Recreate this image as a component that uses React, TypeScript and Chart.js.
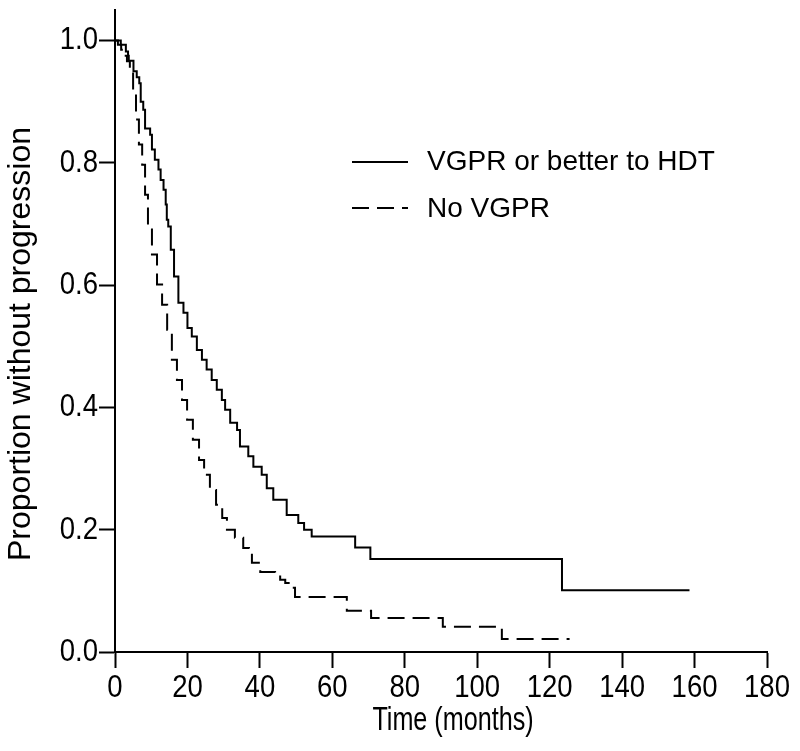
import React, { useEffect, useRef } from "react";
import { Chart, registerables } from "chart.js";

Chart.register(...registerables);

const xTicks = [0, 20, 40, 60, 80, 100, 120, 140, 160, 180];
const yTicks = [0, 0.2, 0.4, 0.6, 0.8, 1.0];

const vgprLabel = "VGPR or better to HDT";
const vgprTimes = [0, 1.6, 3.0, 3.6, 3.8, 5.1, 6.0, 6.7, 7.1, 7.8, 8.3, 9.7, 10.2, 11.0, 12.0, 12.6, 13.4, 14.0, 14.3, 14.7, 15.4, 16.3, 17.5, 18.9, 20.0, 21.2, 22.6, 24.0, 25.3, 26.7, 28.1, 29.5, 30.4, 31.8, 33.7, 34.5, 36.8, 38.2, 40.5, 41.9, 43.7, 47.4, 50.6, 52.2, 54.3, 66.3, 70.5, 123.4, 158.6];
const vgprValues = [1.0, 0.993, 0.982, 0.975, 0.967, 0.95, 0.94, 0.93, 0.9, 0.887, 0.856, 0.846, 0.822, 0.805, 0.789, 0.772, 0.756, 0.732, 0.707, 0.696, 0.658, 0.614, 0.571, 0.555, 0.53, 0.516, 0.494, 0.478, 0.462, 0.445, 0.429, 0.412, 0.396, 0.375, 0.363, 0.336, 0.32, 0.303, 0.29, 0.268, 0.249, 0.224, 0.211, 0.2, 0.189, 0.171, 0.152, 0.101, 0.101];

const noLabel = "No VGPR";
const noTimes = [0, 0.8, 1.7, 2.5, 3.3, 4.1, 5.0, 5.8, 6.6, 7.5, 8.3, 9.1, 10.2, 11.6, 13.0, 14.4, 15.7, 17.1, 18.5, 19.9, 21.5, 23.2, 24.6, 26.2, 27.9, 29.6, 30.9, 33.1, 35.4, 37.0, 37.8, 40.1, 44.2, 45.6, 47.0, 48.9, 49.7, 64.0, 70.7, 90.5, 106.8, 125.5];
const noValues = [1.0, 0.993, 0.985, 0.975, 0.966, 0.949, 0.912, 0.871, 0.83, 0.797, 0.748, 0.699, 0.65, 0.601, 0.568, 0.527, 0.478, 0.445, 0.412, 0.38, 0.347, 0.314, 0.29, 0.265, 0.241, 0.219, 0.2, 0.187, 0.17, 0.164, 0.146, 0.131, 0.126, 0.118, 0.113, 0.105, 0.09, 0.0676, 0.0556, 0.0415, 0.0213, 0.0213];

const xTitle = "Time (months)";
const yTitle = "Proportion without progression";

const DASH = [17, 8];
const REG = "'Liberation Sans', Arial, sans-serif";

function condensedText(ctx: any, text: string, x: number, y: number, size: number, sx: number, align: string) {
  ctx.save();
  ctx.font = `${size}px ${REG}`;
  ctx.textAlign = align;
  ctx.textBaseline = "middle";
  ctx.translate(x, y);
  ctx.scale(sx, 1);
  ctx.fillText(text, 0, 0);
  ctx.restore();
}

const overlayPlugin = {
  id: "overlay",
  afterDraw(chart: any) {
    const ctx = chart.ctx;
    const xs = chart.scales.x;
    const ys = chart.scales.y;
    ctx.save();
    ctx.fillStyle = "#000";
    // tick labels
    xTicks.forEach((v) => condensedText(ctx, String(v), xs.getPixelForValue(v), 688, 32, 0.86, "center"));
    yTicks.forEach((v) => condensedText(ctx, v.toFixed(1), 98, ys.getPixelForValue(v), 32, 0.86, "right"));
    // x title (condensed look)
    condensedText(ctx, xTitle, 453, 721, 34, 0.74, "center");
    // y title
    ctx.save();
    ctx.font = `32px ${REG}`;
    ctx.textAlign = "center";
    ctx.textBaseline = "middle";
    ctx.translate(21, 344);
    ctx.rotate(-Math.PI / 2);
    ctx.fillText(yTitle, 0, 0);
    ctx.restore();
    // legend
    ctx.strokeStyle = "#000";
    ctx.lineWidth = 2;
    ctx.setLineDash([]);
    ctx.beginPath();
    ctx.moveTo(352, 162);
    ctx.lineTo(408, 162);
    ctx.stroke();
    ctx.setLineDash(DASH);
    ctx.beginPath();
    ctx.moveTo(352, 208);
    ctx.lineTo(408, 208);
    ctx.stroke();
    ctx.setLineDash([]);
    ctx.font = `28px ${REG}`;
    ctx.textAlign = "left";
    ctx.textBaseline = "middle";
    ctx.fillText(vgprLabel, 427, 162);
    ctx.fillText(noLabel, 427, 209);
    ctx.restore();
  },
};

export default function App() {
  const ref = useRef<HTMLCanvasElement>(null);
  useEffect(() => {
    const canvas = ref.current!;
    const chart = new Chart(canvas, {
      type: "line",
      data: {
        datasets: [
          {
            label: vgprLabel,
            data: vgprTimes.map((t, i) => ({ x: t, y: vgprValues[i] })),
            borderColor: "#000",
            borderWidth: 2,
            pointRadius: 0,
            stepped: "before",
            fill: false,
          },
          {
            label: noLabel,
            data: noTimes.map((t, i) => ({ x: t, y: noValues[i] })),
            borderColor: "#000",
            borderWidth: 2,
            borderDash: DASH,
            pointRadius: 0,
            stepped: "before",
            fill: false,
          },
        ],
      },
      options: {
        animation: false,
        responsive: false,
        layout: { padding: { top: 10, right: 33, left: 0, bottom: 0 } },
        plugins: { legend: { display: false }, tooltip: { enabled: false } },
        scales: {
          x: {
            type: "linear",
            min: 0,
            max: 180,
            afterBuildTicks: (s: any) => {
              s.ticks = xTicks.map((v) => ({ value: v }));
            },
            afterFit: (s: any) => {
              s.height = 99;
            },
            grid: { display: true, drawOnChartArea: false, drawTicks: true, tickLength: 16, tickWidth: 2, tickColor: "#000" },
            border: { display: true, color: "#000", width: 2 },
            ticks: { display: false, autoSkip: false },
          },
          y: {
            type: "linear",
            min: 0,
            max: 1.05,
            afterBuildTicks: (s: any) => {
              s.ticks = yTicks.map((v) => ({ value: v }));
            },
            afterFit: (s: any) => {
              s.width = 115;
            },
            grid: { display: true, drawOnChartArea: false, drawTicks: true, tickLength: 16, tickWidth: 2, tickColor: "#000" },
            border: { display: true, color: "#000", width: 2 },
            ticks: { display: false, autoSkip: false },
          },
        },
      },
      plugins: [overlayPlugin],
    } as any);
    return () => chart.destroy();
  }, []);
  return (
    <div style={{ position: "fixed", left: 0, top: 0, width: 800, height: 751, background: "#fff" }}>
      <canvas ref={ref} width={800} height={751} style={{ width: 800, height: 751 }} />
    </div>
  );
}
